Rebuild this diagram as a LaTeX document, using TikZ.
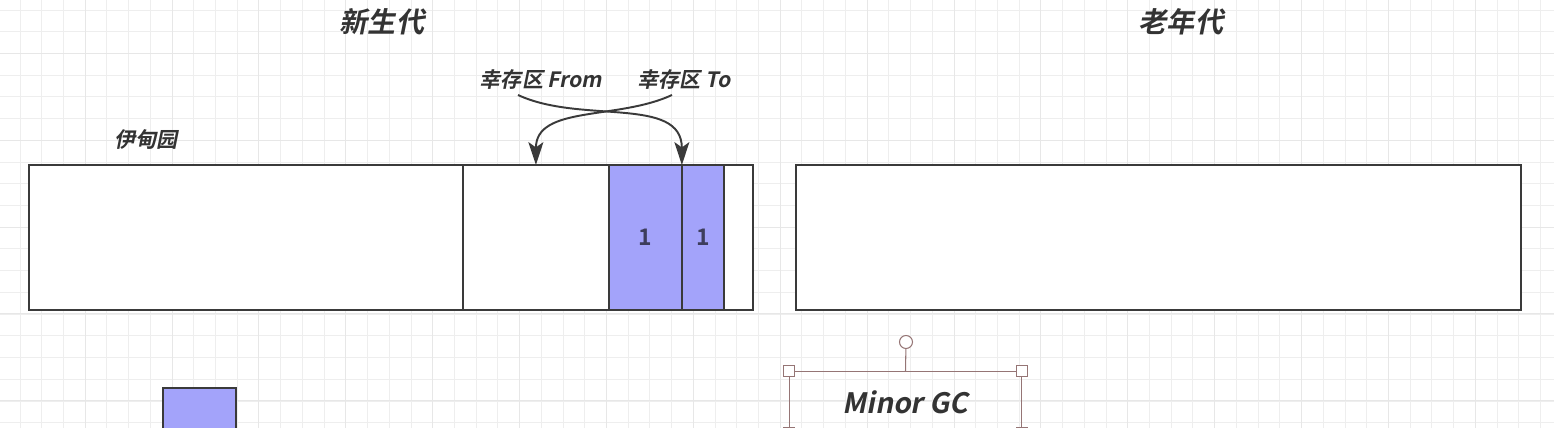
\documentclass[tikz,border=0pt]{standalone}
\usepackage{fontspec}
\usepackage{tikz}
\usetikzlibrary{positioning,arrows.meta}
\newfontfamily\cjk{Noto Sans CJK SC}[BoldFont={* Bold}]
\newfontfamily\cjkslant{Noto Sans CJK SC}[UprightFont={* Bold}, FakeSlant=0.2]
\definecolor{linegray}{HTML}{3A3A3A}
\definecolor{txtgray}{HTML}{333333}
\definecolor{objblue}{HTML}{A3A3FA}
\definecolor{numgray}{HTML}{3D3D5C}
\definecolor{selbrown}{HTML}{957575}
\definecolor{gridminor}{HTML}{EEEEEE}
\definecolor{gridmajor}{HTML}{E7E7E7}
\tikzset{>={Stealth[length=13pt,width=8.5pt,inset=3pt]}}
\tikzset{
  cell/.style={draw=linegray, line width=1.4pt, fill=white, minimum height=2.9cm, inner sep=0pt, outer sep=0pt},
  obj/.style={cell, fill=objblue, text=numgray, font=\cjk\bfseries\fontsize{13}{15}\selectfont},
  ttl/.style={font=\cjkslant\fontsize{16}{18}\selectfont, text=txtgray},
  lbl/.style={font=\cjkslant\fontsize{12}{14}\selectfont, text=txtgray},
  handle/.style={draw=selbrown, fill=white, line width=0.6pt, minimum size=0.22cm, inner sep=0pt},
  swap/.style={-{Stealth[length=13pt,width=8.5pt,inset=3pt]}, draw=linegray, line width=1.1pt},
}

\begin{document}
\begin{tikzpicture}[x=0.02cm, y=-0.02cm]
        \useasboundingbox (0,0) rectangle (1554,428);
        \clip (0,0) rectangle (1554,428);
        \fill[white] (0,0) rectangle (1554,428);
        % grid
        \foreach \k in {0,...,72}
          \draw[gridminor, line width=0.5pt] ({-1.72+\k*21.72},0) -- ++(0,428);
        \foreach \k in {0,...,19}
          \draw[gridminor, line width=0.5pt] (0,{10+\k*21.72}) -- ++(1554,0);
        \foreach \k in {0,...,17}
          \draw[gridmajor, line width=0.5pt] ({-1.72+\k*86.88},0) -- ++(0,428);
        \foreach \k in {0,...,4}
          \draw[gridmajor, line width=0.5pt] (0,{53.3+\k*86.88}) -- ++(1554,0);

        % heap
        \node[cell, minimum width=8.68cm, anchor=north west] (eden) at (29,165) {};
        \node[cell, minimum width=2.92cm, right=0pt of eden] (sfrom) {};
        \node[obj, minimum width=1.46cm, right=0pt of sfrom] (obj1) {1};
        \node[obj, minimum width=0.84cm, right=0pt of obj1] (obj2) {1};
        \node[cell, minimum width=0.58cm, right=0pt of obj2] (sto) {};
        \node[cell, minimum width=14.5cm, anchor=north west] (old) at (796,165) {};

        % labels
        \node[ttl] (young) at (382,22) {新生代};
        \node[ttl] (tenured) at (1181,22) {老年代};
        \node[lbl] (edenlbl) at (146,140) {伊甸园};
        \node[lbl] (fromlbl) at (541,80) {幸存区 From};
        \node[lbl] (tolbl) at (684,80) {幸存区 To};

        \coordinate (fromstart) at (518,95);
        \coordinate (tostart) at (672,95);
        \draw[swap] (fromstart) to[out=-25, in=90] (obj1.north east);
        \draw[swap] (tostart) to[out=205, in=90] (sfrom.north);

        % new object
        \node[obj, minimum width=1.46cm, minimum height=1.46cm, anchor=north west] (newobj) at (163,388) {};

        % selected text
        \node[ttl, draw=selbrown, line width=0.6pt,
              minimum width=4.64cm, minimum height=1.22cm, inner sep=0pt, anchor=north west] (gc) at (789,371) {Minor GC};
        \node[handle] (h1) at (gc.north west) {};
        \node[handle] (h2) at (gc.north east) {};
        \node[handle] (h3) at (gc.south west) {};
        \node[handle] (h4) at (gc.south east) {};
        \node[handle, circle, minimum size=0.26cm] (rot) at (906,342) {};
        \draw[selbrown, line width=0.6pt] (rot) -- (gc.north);
      \end{tikzpicture}
\end{document}
